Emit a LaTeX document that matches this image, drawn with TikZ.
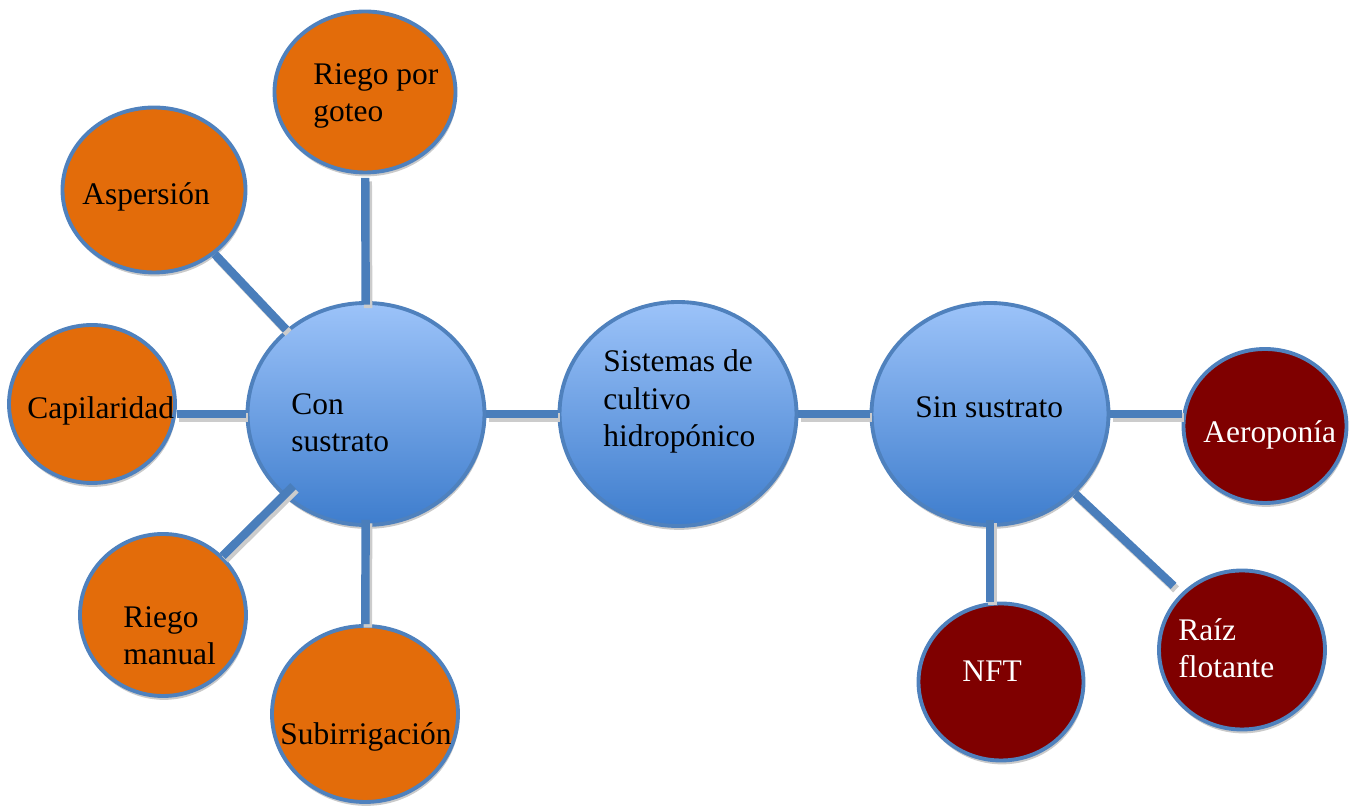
\documentclass[tikz,border=0pt]{standalone}
\usepackage{fontspec}
\setmainfont{Liberation Serif}
\usetikzlibrary{shapes.geometric,shadows}

\definecolor{naranja}{HTML}{E36C0A}
\definecolor{granate}{HTML}{7F0000}
\definecolor{azulclaro}{HTML}{9CC3F9}
\definecolor{azuloscuro}{HTML}{3E7DCD}
\definecolor{borde}{HTML}{4F81BD}
\definecolor{enlace}{HTML}{4A7EBB}

\tikzset{
  burbuja/.style={ellipse, draw=borde, line width=2.2pt, inner sep=0pt,
    drop shadow={shadow xshift=0.6pt, shadow yshift=-2.2pt, fill=black!35, opacity=0.6}},
  central/.style={burbuja, top color=azulclaro, bottom color=azuloscuro},
  riego/.style={burbuja, fill=naranja},
  solucion/.style={burbuja, fill=granate},
  rotulo/.style={align=left, inner sep=0pt, anchor=base west,
    font=\fontsize{17.9pt}{21.5pt}\selectfont},
  enlacebar/.style={draw=enlace, line width=4.8pt,
    preaction={draw=black!20, line width=4.8pt, transform canvas={shift={(0.05,-0.07)}}}}
}

\begin{document}
\begin{tikzpicture}
\useasboundingbox (0,0) rectangle (27.12,16.14);

% nodos centrales
\node[central, minimum width=4.74cm, minimum height=4.48cm] (sis) at (13.56,7.86) {};
\node[central, minimum width=4.74cm, minimum height=4.44cm] (con) at (7.32,7.86) {};
\node[central, minimum width=4.74cm, minimum height=4.44cm] (sin) at (19.80,7.86) {};

% con sustrato
\node[riego, minimum width=3.62cm, minimum height=3.22cm] (goteo) at (7.30,14.30) {};
\node[riego, minimum width=3.66cm, minimum height=3.30cm] (asp) at (3.08,12.34) {};
\node[riego, minimum width=3.32cm, minimum height=3.16cm] (cap) at (1.84,8.06) {};
\node[riego, minimum width=3.32cm, minimum height=3.24cm] (manual) at (3.26,3.84) {};
\node[riego, minimum width=3.72cm, minimum height=3.52cm] (sub) at (7.30,1.86) {};

% sin sustrato
\node[solucion, minimum width=3.26cm, minimum height=3.08cm] (aero) at (25.30,7.62) {};
\node[solucion, minimum width=3.30cm, minimum height=3.14cm] (nft) at (20.02,2.50) {};
\node[solucion, minimum width=3.32cm, minimum height=3.18cm] (raiz) at (24.84,3.14) {};

% conectores
\draw[enlacebar] (con) -- (sis);
\draw[enlacebar] (sis.east) -- (sin.west);
\draw[enlacebar, shorten <=-2pt, shorten >=2pt] (con) -- (goteo);
\draw[enlacebar] (con) -- (asp);
\draw[enlacebar] (con.west) -- (con.west -| cap.east);
\draw[enlacebar, shorten <=-8pt] (con) -- (manual);
\draw[enlacebar, shorten <=-4pt] (con) -- (sub);
\draw[enlacebar] (sin.east) -- (sin.east -| aero.west);
\draw[enlacebar, shorten <=-4pt] (sin.south) -- (sin.south |- nft.north);
\draw[enlacebar, shorten >=6pt] (sin) -- (raiz);

% textos
\node[rotulo] (sis-t) at (12.06,7.20) {Sistemas de\\cultivo\\hidropónico};
\node[rotulo] (con-t) at (5.82,7.10) {Con\\sustrato};
\node[rotulo] (sin-t) at (18.30,7.78) {Sin sustrato};
\node[rotulo] (goteo-t) at (6.26,13.70) {Riego por\\goteo};
\node[rotulo] (asp-t) at (1.64,12.04) {Aspersión};
\node[rotulo] (cap-t) at (0.54,7.76) {Capilaridad};
\node[rotulo] (manual-t) at (2.46,2.84) {Riego\\manual};
\node[rotulo] (sub-t) at (5.60,1.24) {Subirrigación};
\node[rotulo, text=white] (aero-t) at (24.06,7.28) {Aeroponía};
\node[rotulo, text=white] (nft-t) at (19.24,2.50) {NFT};
\node[rotulo, text=white] (raiz-t) at (23.56,2.58) {Raíz\\flotante};
\end{tikzpicture}
\end{document}
